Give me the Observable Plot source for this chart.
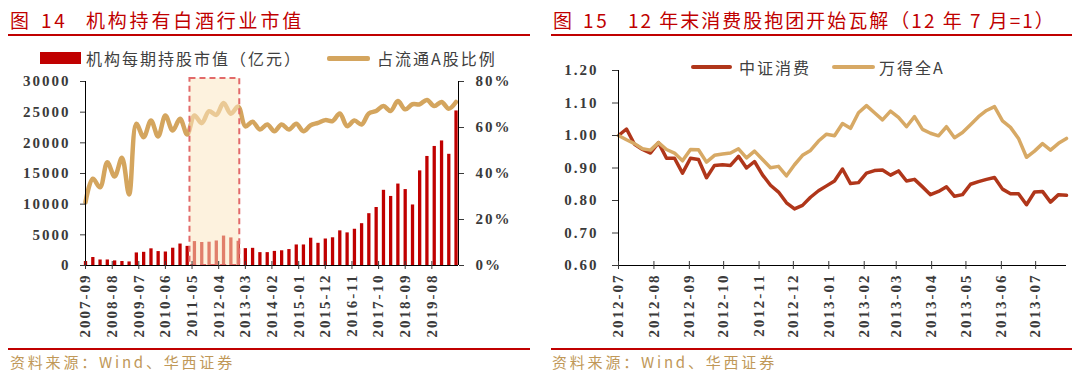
<!DOCTYPE html>
<html><head><meta charset="utf-8">
<script src="https://cdn.jsdelivr.net/npm/d3@7"></script>
<script src="https://cdn.jsdelivr.net/npm/@observablehq/plot@0.6"></script>
<style>
body{margin:0;background:#fff;}
#wrap{position:relative;width:1080px;height:378px;overflow:hidden;font-family:"Noto Sans CJK SC",sans-serif;background:#fff;}
.t{position:absolute;top:8px;font-size:19px;color:#C00000;letter-spacing:2.8px;white-space:nowrap;line-height:24px;}
.rule{position:absolute;height:2px;background:#C00000;}
.leg{position:absolute;font-size:16px;color:#404040;letter-spacing:2px;white-space:nowrap;line-height:20px;}
.sw{position:absolute;}
.src{position:absolute;top:352px;font-size:15px;color:#C09858;letter-spacing:2.8px;white-space:nowrap;line-height:20px;}
.plot{position:absolute;}
</style></head>
<body>
<div id="wrap">
  <div class="t" style="left:10px">图</div>
  <div class="t" style="left:41px">14</div>
  <div class="t" style="left:86px">机构持有白酒行业市值</div>
  <div class="rule" style="left:8px;width:522px;top:34px"></div>
  <div class="sw" style="left:40px;top:52px;width:41px;height:12px;background:#C00000"></div>
  <div class="leg" style="left:86px;top:48px">机构每期持股市值（亿元）</div>
  <div class="sw" style="left:327px;top:56px;width:43px;height:4.5px;background:#D4A55E;border-radius:2px"></div>
  <div class="leg" style="left:377px;top:48px">占流通A股比例</div>

  <div class="t" style="left:553px">图</div>
  <div class="t" style="left:583px">15</div>
  <div class="t" style="left:628px;letter-spacing:2px">12 年末消费股抱团开始瓦解（12 年 7 月=1）</div>
  <div class="rule" style="left:551px;width:521px;top:34px"></div>
  <div class="sw" style="left:691px;top:65px;width:41px;height:4px;background:#B0361A;border-radius:2px"></div>
  <div class="leg" style="left:739px;top:57px">中证消费</div>
  <div class="sw" style="left:832px;top:65px;width:43px;height:4px;background:#D7A965;border-radius:2px"></div>
  <div class="leg" style="left:879px;top:57px">万得全A</div>

  <div id="p1" class="plot" style="left:0;top:70px"></div>
  <div id="p2" class="plot" style="left:540px;top:60px"></div>

  <div class="rule" style="left:8px;width:522px;top:348px"></div>
  <div class="rule" style="left:551px;width:521px;top:348px"></div>
  <div class="src" style="left:10px">资料来源：Wind、华西证券</div>
  <div class="src" style="left:552px">资料来源：Wind、华西证券</div>
</div>
<script>
// ---------- Figure 14 data ----------
const quarters = ["2007-09","2007-12","2008-03","2008-06","2008-09","2008-12","2009-03","2009-06","2009-09","2009-12",
  "2010-03","2010-06","2010-09","2010-12","2011-03","2011-06","2011-09","2011-12","2012-03","2012-06",
  "2012-09","2012-12","2013-03","2013-06","2013-09","2013-12","2014-03","2014-06","2014-09","2014-12",
  "2015-03","2015-06","2015-09","2015-12","2016-03","2016-06","2016-09","2016-12","2017-03","2017-06",
  "2017-09","2017-12","2018-03","2018-06","2018-09","2018-12","2019-03","2019-06","2019-09","2019-12",
  "2020-03","2020-06"];
const heldValue = [650,1300,900,900,750,650,580,2050,2150,2720,
  2270,2200,2820,3500,3120,3900,3750,3800,4000,4800,
  4500,3950,2750,2800,2100,2100,2300,2400,2600,3350,
  3350,4450,3620,4320,4520,5650,5320,5910,6820,8450,
  9460,12260,11260,13280,12380,9870,15430,17780,19410,20310,
  18130,25200];
const floatShare = [27.5,37.7,34,44.9,38.7,46.8,30.9,61.6,55.8,63,
  56.1,65.2,58.7,63.8,57,65.2,61.9,67.1,65.5,70.6,
  66,69.1,60.5,62.5,59.1,61.3,58.4,61.3,59.1,61.6,
  58.4,61,62,63.2,62.8,66.1,60.6,63,61.3,66.1,
  67.2,69.3,67.2,71.5,67.9,70.1,70.1,72,69.3,71.1,
  68.2,71.1];
const xTickLabels1 = ["2007-09","2008-08","2009-07","2010-06","2011-05","2012-04","2013-03","2014-02","2015-01","2015-12","2016-11","2017-10","2018-09","2019-08"];
const xExtent1 = ["2007-09","2020-07"];
const leftTicks = [0,5000,10000,15000,20000,25000,30000];
const rightTicksPct = [0,20,40,60,80];
const highlight = {from:"2011-05-05", to:"2013-01-20", top:30500};

// ---------- Figure 15 data ----------
const weeks = ["2012-07-06","2012-07-13","2012-07-20","2012-07-27","2012-08-03","2012-08-10","2012-08-17","2012-08-24","2012-08-31",
  "2012-09-07","2012-09-14","2012-09-21","2012-09-28","2012-10-05","2012-10-12","2012-10-19","2012-10-26",
  "2012-11-02","2012-11-09","2012-11-16","2012-11-23","2012-11-30","2012-12-07","2012-12-14","2012-12-21","2012-12-28",
  "2013-01-04","2013-01-11","2013-01-18","2013-01-25","2013-02-01","2013-02-08","2013-02-15","2013-02-22",
  "2013-03-01","2013-03-08","2013-03-15","2013-03-22","2013-03-29","2013-04-05","2013-04-12","2013-04-19","2013-04-26",
  "2013-05-03","2013-05-10","2013-05-17","2013-05-24","2013-05-31","2013-06-07","2013-06-14","2013-06-21","2013-06-28",
  "2013-07-05","2013-07-12","2013-07-19","2013-07-26","2013-08-02"];
const csConsumer = [1.00,1.02,0.973,0.957,0.946,0.978,0.93,0.93,0.884,0.93,0.926,0.87,0.908,0.91,0.908,0.936,0.90,0.92,0.879,0.847,
  0.826,0.793,0.774,0.785,0.81,0.83,0.845,0.86,0.897,0.852,0.855,0.884,0.892,0.894,0.878,0.891,0.86,0.865,0.842,0.818,
  0.828,0.842,0.813,0.818,0.85,0.858,0.865,0.871,0.835,0.821,0.821,0.787,0.826,0.828,0.795,0.818,0.816];
const windA = [1.00,0.987,0.975,0.959,0.955,0.978,0.957,0.946,0.922,0.957,0.956,0.918,0.939,0.943,0.946,0.959,0.931,0.952,0.926,0.901,
  0.905,0.876,0.91,0.939,0.954,0.983,1.004,0.999,1.037,1.022,1.07,1.092,1.07,1.048,1.075,1.056,1.027,1.058,1.019,1.007,
  0.999,1.027,0.993,1.009,1.033,1.058,1.077,1.089,1.045,1.025,0.991,0.933,0.952,0.975,0.955,0.976,0.991];
const xTickLabels2 = ["2012-07","2012-08","2012-09","2012-10","2012-11","2012-12","2013-01","2013-02","2013-03","2013-04","2013-05","2013-06","2013-07"];
const yTicks2 = [0.6,0.7,0.8,0.9,1.0,1.1,1.2];

// ---------- helpers ----------
const pm = d3.utcParse("%Y-%m");
const pd = d3.utcParse("%Y-%m-%d");
const monthEnd = s => d3.utcDay.offset(d3.utcMonth.offset(pm(s), 1), -1);
const fmtM = d3.utcFormat("%Y-%m");
const axisStyle = {fontFamily:"'Liberation Serif','Times New Roman',serif", fontSize:"15px", fontWeight:"bold", letterSpacing:"2px", color:"#3a3a3a", background:"transparent", overflow:"visible"};

// ---------- chart 1 ----------
const rows1 = quarters.map((q,i) => ({date: monthEnd(q), value: heldValue[i], pct: floatShare[i]}));
const ticks1 = xTickLabels1.map(monthEnd);
const x0 = monthEnd(xExtent1[0]), x1 = monthEnd(xExtent1[1]);
const YMAX = leftTicks[leftTicks.length-1], PMAX = rightTicksPct[rightTicksPct.length-1];

const chart1 = Plot.plot({
  width: 540, height: 279,
  marginLeft: 85, marginRight: 82, marginTop: 11, marginBottom: 84,
  style: axisStyle,
  x: {type: "utc", domain: [x0, x1], label: null},
  y: {domain: [0, YMAX], label: null},
  marks: [
    Plot.ruleX(rows1, {x: "date", y1: 0, y2: "value", stroke: "#C00000", strokeWidth: 3.3}),
    Plot.line(rows1, {x: "date", y: d => d.pct / PMAX * YMAX, stroke: "#D4A55E", strokeWidth: 4.5, curve: "catmull-rom"}),
    Plot.rect([highlight], {x1: d => pd(d.from), x2: d => pd(d.to), y1: 0, y2: d => d.top,
      fill: "#FBE7C2", fillOpacity: 0.55, stroke: "#E26A6A", strokeWidth: 2, strokeDasharray: "6,4"}),
    Plot.ruleY([0], {stroke: "#000"}),
    Plot.ruleX([x0], {stroke: "#000"}),
    Plot.ruleX([x1], {stroke: "#000"}),
    Plot.axisY({anchor: "left", label: null, ticks: leftTicks, tickSize: 5, tickPadding: 10, tickFormat: d => String(d)}),
    Plot.axisY({anchor: "right", label: null, ticks: rightTicksPct.map(p => p / PMAX * YMAX), tickSize: 5, tickPadding: 12,
      tickFormat: d => Math.round(d / YMAX * PMAX) + "%"}),
    Plot.axisX({anchor: "bottom", label: null, ticks: ticks1, tickSize: 8, dy: -4, tickFormat: () => ""}),
    Plot.axisX({anchor: "bottom", label: null, ticks: ticks1, tickSize: 0, tickPadding: 8, tickRotate: -90, tickFormat: fmtM})
  ]
});
document.getElementById("p1").append(chart1);

// ---------- chart 2 ----------
const rows2 = weeks.map((w,i) => ({date: pd(w), cs: csConsumer[i], wa: windA[i]}));
const xs0 = rows2[0].date, xs1 = rows2[rows2.length-1].date;
const ticks2 = xTickLabels2.map(s => d3.utcDay.offset(pm(s), xs0.getUTCDate() - 1));

const chart2 = Plot.plot({
  width: 540, height: 289,
  marginLeft: 78, marginRight: 14, marginTop: 10, marginBottom: 84,
  style: axisStyle,
  x: {type: "utc", domain: [xs0, xs1], label: null},
  y: {domain: [yTicks2[0], yTicks2[yTicks2.length-1]], label: null},
  marks: [
    Plot.line(rows2, {x: "date", y: "cs", stroke: "#B0361A", strokeWidth: 3.5}),
    Plot.line(rows2, {x: "date", y: "wa", stroke: "#D7A965", strokeWidth: 3.5}),
    Plot.ruleY([yTicks2[0]], {stroke: "#000"}),
    Plot.ruleX([xs0], {stroke: "#000"}),
    Plot.axisY({anchor: "left", label: null, ticks: yTicks2, tickSize: 6, tickPadding: 14, tickFormat: d3.format(".2f")}),
    Plot.axisX({anchor: "bottom", label: null, ticks: ticks2, tickSize: 8, dy: -4, tickFormat: () => ""}),
    Plot.axisX({anchor: "bottom", label: null, ticks: ticks2, tickSize: 0, tickPadding: 8, tickRotate: -90, tickFormat: fmtM})
  ]
});
document.getElementById("p2").append(chart2);
</script>
</body></html>
